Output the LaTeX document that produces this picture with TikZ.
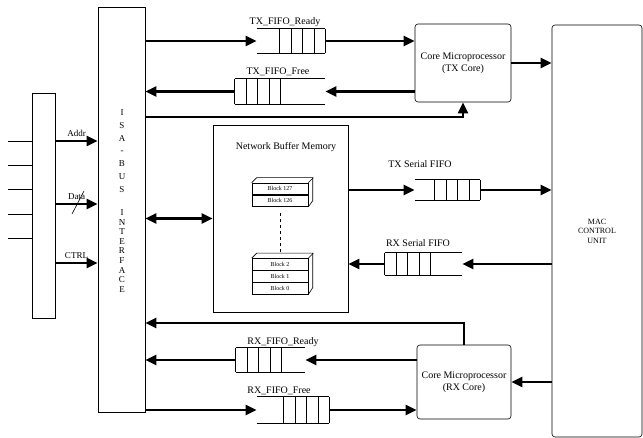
\documentclass[tikz,border=0pt]{standalone}
\usepackage{fontspec}
\setmainfont{Liberation Serif}
\usepackage{tikz}
\usetikzlibrary{arrows.meta,positioning}
\newcommand{\fifoleft}[1]{%
  \draw (#1.north west) -- (#1.north east) (#1.south west) -- (#1.south east);
  \foreach \k in {0,...,4}
    \draw ([xshift=\k*11.5pt]#1.north west) -- ([xshift=\k*11.5pt]#1.south west);}
\newcommand{\fiforight}[1]{%
  \draw (#1.north west) -- (#1.north east) (#1.south west) -- (#1.south east);
  \foreach \k in {0,...,4}
    \draw ([xshift=-\k*11.5pt]#1.north east) -- ([xshift=-\k*11.5pt]#1.south east);}

\begin{document}
\begin{tikzpicture}[x=1pt,y=-1pt,line width=0.6pt,
    >={Triangle[length=11pt,width=10pt]},
    box/.style={draw,inner sep=0pt},
    core/.style={draw,rounded corners=3pt,align=center,inner sep=1pt},
    fifo/.style={inner sep=0pt},
    block/.style={draw,minimum width=56,minimum height=11.5,inner sep=0pt,
      font=\fontsize{6}{7}\selectfont},
    bus/.style={line width=2.5pt,->}]
  \useasboundingbox (0,0) rectangle (643,438);
  % host side: pins, bus and ISA interface
  \node[box,minimum width=23,minimum height=225] (hostbus) at (43.5,205.5) {};
  \foreach \yy in {141,165,189,214,238}
    \draw (8,\yy) -- (hostbus.west |- 0,\yy);
  \node[box,minimum width=47,minimum height=405] (iface) at (121.5,209.5) {};
  \node[align=center,font=\fontsize{9}{12.8}\selectfont] (isaword) at (122,151) {I\\S\\A\\-\\B\\U\\S};
  \node[align=center,font=\fontsize{9}{9.6}\selectfont] (ifword) at (122,251) {I\\N\\T\\E\\R\\F\\A\\C\\E};
  \coordinate (yaddr) at (0,141);
  \coordinate (ydata) at (0,204);
  \coordinate (yctrl) at (0,263);
  \draw[bus] (hostbus.east |- yaddr) -- node[above,font=\small] {Addr} (iface.west |- yaddr);
  \draw[bus] (hostbus.east |- ydata) -- node[above,font=\small] {Data} (iface.west |- ydata);
  \draw[bus] (hostbus.east |- yctrl) -- node[above,font=\small] {CTRL} (iface.west |- yctrl);
  \coordinate (dmark) at (78,203);
  \draw (dmark) ++(-6,11) -- ++(12,-23);

  % network buffer memory
  \node[box,minimum width=135,minimum height=187] (nbm) at (280.5,218.5) {};
  \node (nbmtitle) at (286,147) {Network Buffer Memory};
  \node[block] (b127) at (280,188.75) {Block 127};
  \node[block,below=0pt of b127] (b126) {Block 126};
  \node[block] (b2) at (280,264.25) {Block 2};
  \node[block,below=0pt of b2] (b1) {Block 1};
  \node[block,below=0pt of b1] (b0) {Block 0};
  \draw (b127.north west) -- ++(5,-5) -- ++(56,0) -- ++(0,23) -- (b126.south east);
  \draw (b127.north east) -- ++(5,-5);
  \draw (b2.north west) -- ++(5,-5) -- ++(56,0) -- ++(0,34.5) -- (b0.south east);
  \draw (b2.north east) -- ++(5,-5);
  \draw[dashed,shorten <=6pt,shorten >=6pt] (b126.south) -- (b2.north);

  % cores and MAC
  \node[core,minimum width=96,minimum height=78] (txcore) at (463,63) {Core Microprocessor\\(TX Core)};
  \node[core,minimum width=94,minimum height=74] (rxcore) at (464,382) {Core Microprocessor\\(RX Core)};
  \node[core,minimum width=90,minimum height=412,font=\footnotesize] (mac) at (597,231) {MAC\\CONTROL\\UNIT};

  % FIFOs
  \node[fifo,minimum width=68,minimum height=24] (txr) at (291,41) {};
  \node[fifo,minimum width=90,minimum height=25] (txf) at (280,91.5) {};
  \node[fifo,minimum width=65,minimum height=20] (txs) at (447.5,190) {};
  \node[fifo,minimum width=77,minimum height=22] (rxs) at (423.5,264) {};
  \node[fifo,minimum width=69,minimum height=24] (rxr) at (270.5,360) {};
  \node[fifo,minimum width=72,minimum height=26] (rxf) at (293,410) {};
  \fiforight{txr}
  \fifoleft{txf}
  \fiforight{txs}
  \fifoleft{rxs}
  \fifoleft{rxr}
  \fiforight{rxf}
  \node (txrlbl) at (285,22) {TX\_FIFO\_Ready};
  \node (txflbl) at (278,72) {TX\_FIFO\_Free};
  \node (txslbl) at (420,164) {TX Serial FIFO};
  \node (rxslbl) at (418,243) {RX Serial FIFO};
  \node (rxrlbl) at (283,342) {RX\_FIFO\_Ready};
  \node (rxflbl) at (279,391) {RX\_FIFO\_Free};

  % data paths
  \draw[bus] (txr.west -| iface.east) -- (txr.west);
  \draw[bus] (txr.east) -- (txr.east -| txcore.west);
  \draw[bus] (txf.east -| txcore.west) -- (txf.east);
  \draw[bus] (txf.west) -- (txf.west -| iface.east);
  \coordinate (txback) at (0,117);
  \draw[bus] (iface.east |- txback) -- (txcore.south |- txback) -- (txcore.south);
  \draw[bus] (txcore.east) -- (txcore.east -| mac.west);
  \draw[bus,<->] (nbm.west -| iface.east) -- (nbm.west);
  \draw[bus] (txs.west -| nbm.east) -- (txs.west);
  \draw[bus] (txs.east) -- (txs.east -| mac.west);
  \draw[bus] (rxs.east -| mac.west) -- (rxs.east);
  \draw[bus] (rxs.west) -- (rxs.west -| nbm.east);
  \coordinate (rxback) at (0,323);
  \draw[bus] (rxcore.north) -- (rxcore.north |- rxback) -- (iface.east |- rxback);
  \draw[bus] (rxr.east -| rxcore.west) -- (rxr.east);
  \draw[bus] (rxr.west) -- (rxr.west -| iface.east);
  \draw[bus] (rxf.west -| iface.east) -- (rxf.west);
  \draw[bus] (rxf.east) -- (rxf.east -| rxcore.west);
  \draw[bus] (rxcore.east -| mac.west) -- (rxcore.east);
\end{tikzpicture}
\end{document}
